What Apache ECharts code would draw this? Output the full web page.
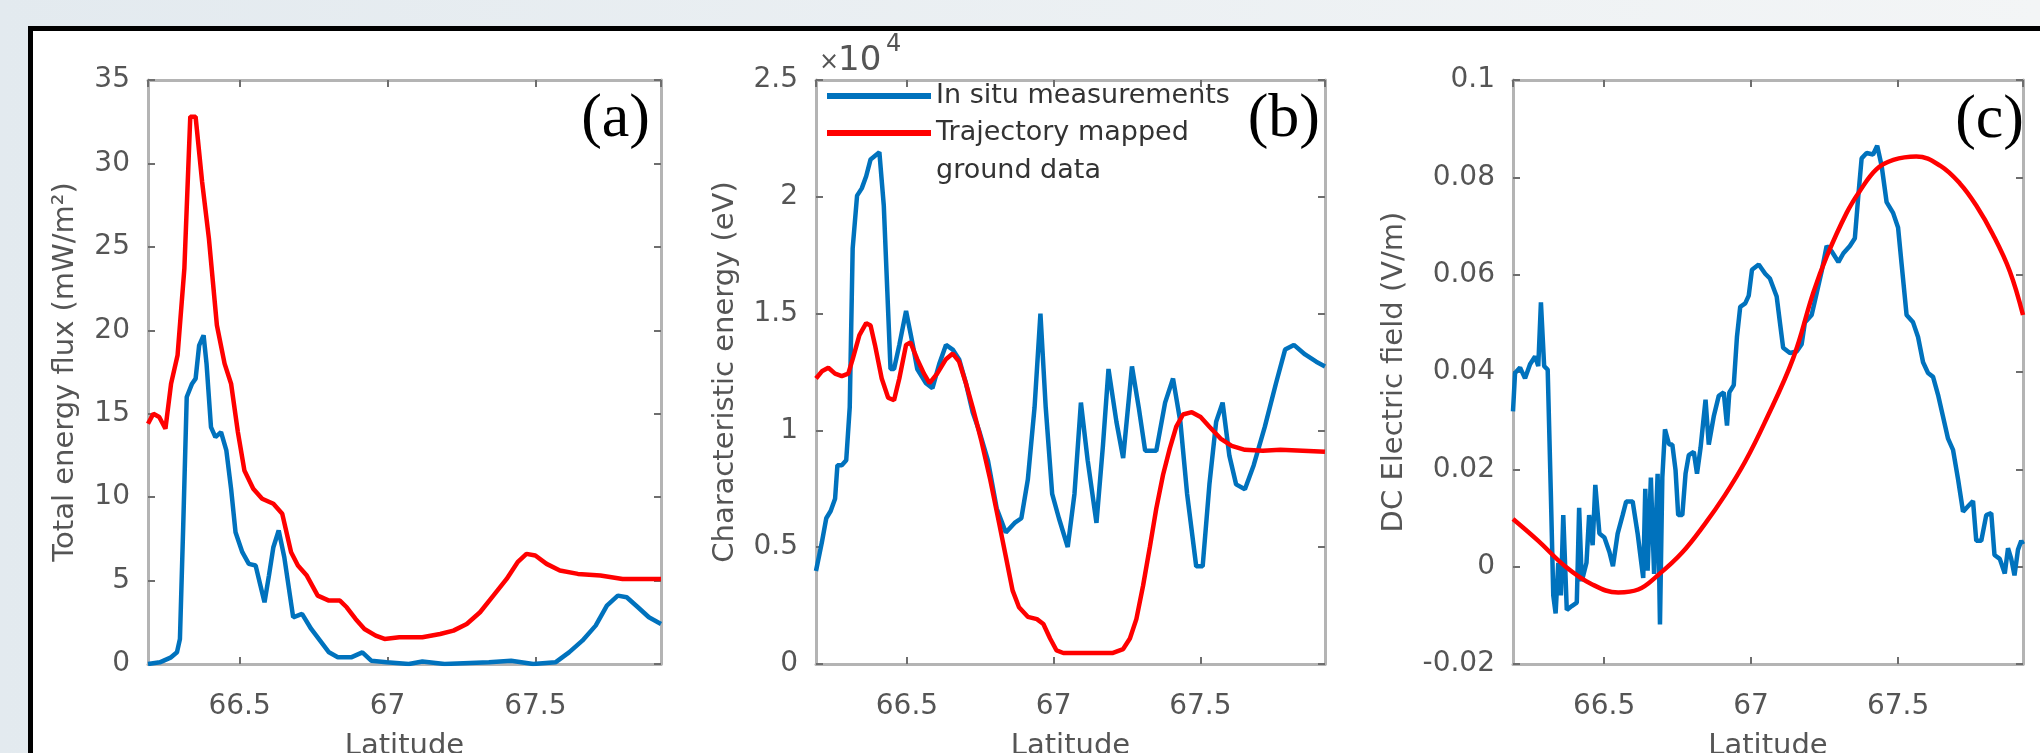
<!DOCTYPE html>
<html>
<head>
<meta charset="utf-8">
<script src="https://cdn.jsdelivr.net/npm/echarts@6/dist/echarts.min.js"></script>
<style>
  html, body { margin: 0; padding: 0; }
  body { background: linear-gradient(to right, #e3eaef, #f3f5f6); }
  #chart { width: 2040px; height: 753px; }
</style>
</head>
<body>
<div id="chart"></div>
<script>
// latitude range shared by the three panels
var LAT_MIN = 66.19, LAT_MAX = 67.925;

// (a) total energy flux, mW/m2
var fluxLatIn = [66.19, 66.23, 66.268, 66.288, 66.298, 66.309, 66.321, 66.339, 66.351, 66.363,
  66.378, 66.388, 66.403, 66.418, 66.437, 66.455, 66.471, 66.486, 66.509, 66.531,
  66.554, 66.569, 66.584, 66.599, 66.614, 66.632, 66.651, 66.681, 66.711, 66.742,
  66.772, 66.802, 66.832, 66.877, 66.915, 66.945, 66.997, 67.072, 67.118, 67.193,
  67.343, 67.418, 67.493, 67.568, 67.614, 67.659, 67.704, 67.742, 67.779, 67.809,
  67.847, 67.884, 67.925];
var fluxIn = [0, 0.1, 0.4, 0.7, 1.5, 8.2, 16.0, 16.8, 17.1, 19.1,
  19.7, 18.0, 14.2, 13.6, 13.9, 12.8, 10.5, 7.9, 6.7, 6.0,
  5.9, 4.8, 3.7, 5.3, 7.0, 8.0, 6.4, 2.8, 3.0, 2.1,
  1.4, 0.7, 0.4, 0.4, 0.7, 0.2, 0.1, 0, 0.15, 0,
  0.1, 0.2, 0, 0.1, 0.7, 1.4, 2.3, 3.5, 4.1, 4.0,
  3.4, 2.8, 2.4];
var fluxLatMap = [66.19, 66.208, 66.228, 66.249, 66.268, 66.29, 66.313, 66.333, 66.351, 66.373,
  66.396, 66.423, 66.449, 66.471, 66.494, 66.516, 66.546, 66.576, 66.614, 66.644,
  66.674, 66.697, 66.727, 66.764, 66.802, 66.839, 66.862, 66.892, 66.922, 66.96,
  66.99, 67.04, 67.118, 67.178, 67.223, 67.268, 67.313, 67.358, 67.403, 67.44,
  67.47, 67.5, 67.538, 67.583, 67.644, 67.72, 67.795, 67.87, 67.925];
var fluxMap = [14.4, 15.0, 14.8, 14.1, 16.8, 18.5, 23.7, 32.8, 32.8, 28.9,
  25.5, 20.3, 18.0, 16.8, 13.9, 11.6, 10.5, 9.9, 9.6, 9.0,
  6.7, 5.9, 5.3, 4.1, 3.8, 3.8, 3.4, 2.7, 2.1, 1.7,
  1.5, 1.6, 1.6, 1.8, 2.0, 2.4, 3.1, 4.1, 5.1, 6.1,
  6.6, 6.5, 6.0, 5.6, 5.4, 5.3, 5.1, 5.1, 5.1];

// (b) characteristic energy, eV
var energyLatIn = [66.19, 66.21, 66.225, 66.24, 66.255, 66.263, 66.278, 66.293, 66.305, 66.315,
  66.33, 66.346, 66.361, 66.376, 66.406, 66.421, 66.444, 66.456, 66.474, 66.497,
  66.52, 66.535, 66.565, 66.587, 66.61, 66.633, 66.656, 66.678, 66.701, 66.724,
  66.747, 66.776, 66.806, 66.837, 66.867, 66.89, 66.912, 66.935, 66.955, 66.973,
  66.995, 67.018, 67.048, 67.071, 67.093, 67.116, 67.146, 67.168, 67.187, 67.214,
  67.237, 67.267, 67.29, 67.312, 67.35, 67.38, 67.407, 67.432, 67.455, 67.486,
  67.508, 67.531, 67.554, 67.576, 67.599, 67.622, 67.652, 67.682, 67.72, 67.758,
  67.789, 67.819, 67.857, 67.895, 67.925];
var energyIn = [3980, 5210, 6240, 6550, 7070, 8510, 8510, 8720, 10990, 17790,
  20050, 20360, 20880, 21600, 21910, 19640, 12630, 12630, 13660, 15110,
  13660, 12630, 12020, 11810, 12840, 13660, 13460, 13040, 12020, 10780,
  9950, 8720, 6660, 5630, 6040, 6240, 7890, 10990, 15000, 10990,
  7280, 6240, 5010, 7280, 11190, 8720, 6040, 9340, 12630, 10370,
  8820, 12740, 10990, 9130, 9130, 11190, 12220, 10370, 7280, 4180,
  4180, 7690, 10370, 11190, 8920, 7690, 7480, 8510, 10160, 12020,
  13460, 13660, 13250, 12940, 12740];
var energyLatMap = [66.19, 66.21, 66.232, 66.255, 66.278, 66.3, 66.315, 66.338, 66.361, 66.376,
  66.391, 66.414, 66.436, 66.456, 66.474, 66.497, 66.512, 66.535, 66.558, 66.577,
  66.603, 66.633, 66.656, 66.678, 66.701, 66.724, 66.754, 66.784, 66.814, 66.837,
  66.86, 66.882, 66.912, 66.943, 66.965, 66.988, 67.01, 67.033, 67.079, 67.139,
  67.2, 67.237, 67.26, 67.282, 67.305, 67.328, 67.35, 67.373, 67.396, 67.418,
  67.441, 67.471, 67.501, 67.531, 67.569, 67.607, 67.652, 67.713, 67.773, 67.849, 67.925];
var energyMap = [12220, 12530, 12680, 12430, 12320, 12430, 13050, 14080, 14590, 14490,
  13660, 12220, 11400, 11290, 12220, 13660, 13770, 13050, 12430, 12020,
  12430, 13050, 13290, 12940, 12020, 10990, 9540, 7890, 6040, 4600,
  3150, 2430, 2020, 1920, 1710, 1090, 580, 470, 470, 470,
  470, 640, 1090, 1920, 3360, 5010, 6660, 8100, 9230, 10160,
  10680, 10780, 10570, 10160, 9650, 9340, 9170, 9130, 9170, 9130, 9090];

// (c) DC electric field, V/m
var efieldLatIn = [66.19, 66.197, 66.214, 66.231, 66.248, 66.265, 66.276, 66.285, 66.296, 66.308,
  66.319, 66.327, 66.335, 66.344, 66.353, 66.361, 66.373, 66.39, 66.407, 66.415,
  66.424, 66.44, 66.449, 66.461, 66.47, 66.484, 66.501, 66.518, 66.53, 66.546,
  66.563, 66.575, 66.597, 66.614, 66.625, 66.633, 66.64, 66.648, 66.659, 66.67,
  66.682, 66.69, 66.698, 66.707, 66.721, 66.732, 66.743, 66.752, 66.766, 66.777,
  66.788, 66.805, 66.816, 66.828, 66.845, 66.856, 66.873, 66.89, 66.907, 66.918,
  66.926, 66.941, 66.952, 66.963, 66.98, 66.992, 67.003, 67.026, 67.048, 67.064,
  67.087, 67.098, 67.109, 67.132, 67.155, 67.172, 67.183, 67.206, 67.223, 67.24,
  67.257, 67.274, 67.297, 67.314, 67.336, 67.353, 67.365, 67.376, 67.393, 67.415,
  67.429, 67.444, 67.461, 67.483, 67.5, 67.512, 67.529, 67.551, 67.568, 67.585,
  67.602, 67.619, 67.636, 67.653, 67.67, 67.687, 67.704, 67.721, 67.738, 67.755,
  67.766, 67.783, 67.8, 67.817, 67.828, 67.846, 67.863, 67.874, 67.885, 67.896,
  67.908, 67.919, 67.925];
var efieldIn = [0.0319, 0.0398, 0.0409, 0.0387, 0.0416, 0.0432, 0.0412, 0.0543, 0.0412, 0.0405,
  0.0144, -0.0059, -0.0096, 0.0008, -0.0059, 0.0106, -0.0089, -0.0081, -0.0074, 0.0121,
  -0.003, 0.0008, 0.0106, 0.0044, 0.0168, 0.0068, 0.006, 0.003, 0.0001, 0.0068,
  0.0106, 0.0134, 0.0134, 0.0068, 0.0015, -0.0023, 0.016, -0.0008, 0.0183, -0.0015,
  0.0191, -0.0119, 0.0183, 0.0282, 0.0251, 0.0251, 0.0198, 0.0106, 0.0106, 0.0191,
  0.0229, 0.0236, 0.0191, 0.0244, 0.0343, 0.0251, 0.0309, 0.0351, 0.0358, 0.029,
  0.0358, 0.0373, 0.0473, 0.0534, 0.0541, 0.0557, 0.061, 0.0621, 0.0602, 0.0592,
  0.0555, 0.0502, 0.045, 0.0439, 0.0442, 0.0457, 0.0502, 0.0517, 0.0562, 0.0607,
  0.0659, 0.0648, 0.0626, 0.0644, 0.0659, 0.0675, 0.0764, 0.0839, 0.085, 0.0847,
  0.0865, 0.0824, 0.0749, 0.0727, 0.0697, 0.0622, 0.0517, 0.0502, 0.0472, 0.042,
  0.0398, 0.039, 0.0353, 0.0308, 0.0263, 0.024, 0.018, 0.0113, 0.0124, 0.0135,
  0.0053, 0.0053, 0.0106, 0.011, 0.0024, 0.0016, -0.0014, 0.0038, 0.0016, -0.0018,
  0.0035, 0.0053, 0.0046];
var efieldLatMap = [66.19, 66.276, 66.367, 66.458, 66.548, 66.616, 66.684, 66.764, 66.843, 66.911,
  66.979, 67.047, 67.143, 67.211, 67.257, 67.325, 67.37, 67.427, 67.484, 67.562,
  67.643, 67.711, 67.766, 67.823, 67.88, 67.925];
var efieldMap = [0.0098, 0.0053, 0.0001, -0.0036, -0.0053, -0.0047, -0.0017, 0.0028, 0.0088, 0.0147,
  0.0215, 0.0297, 0.0428, 0.0562, 0.0637, 0.0727, 0.0772, 0.0817, 0.0836, 0.0843,
  0.0824, 0.0787, 0.0742, 0.0682, 0.0607, 0.0517];

var NAME_IN = 'In situ measurements';
var NAME_MAP = 'Trajectory mapped ground data';
var BLUE = '#0072BD', RED = '#FF0000';
var FONT = 'DejaVu Sans';

var myChart = echarts.init(document.getElementById('chart'));

function pairs(xs, ys) {
  var n = Math.min(xs.length, ys.length), out = [];
  for (var i = 0; i < n; i++) out.push([xs[i], ys[i]]);
  return out;
}

var axisLine = { show: true, onZero: false, lineStyle: { color: '#b4b4b4', width: 3 } };
var axisTick = { show: true, inside: true, length: 7, lineStyle: { color: '#6e6e6e', width: 2 } };
var labelStyle = { fontFamily: FONT, fontSize: 28, color: '#555' };
var nameStyle = { fontFamily: FONT, fontSize: 29, color: '#555' };

function latLabel(v) {
  return Math.abs(v * 2 - Math.round(v * 2)) < 1e-6 ? String(v) : '';
}

function makeX(g) {
  var base = { gridIndex: g, type: 'value', min: LAT_MIN, max: LAT_MAX, splitNumber: 4,
    splitLine: { show: false }, axisLine: axisLine, axisTick: axisTick };
  return [
    Object.assign({}, base, { position: 'bottom', name: 'Latitude', nameLocation: 'middle',
      nameGap: 68, nameTextStyle: nameStyle,
      axisLabel: Object.assign({ margin: 29, showMinLabel: false, showMaxLabel: false, formatter: latLabel }, labelStyle) }),
    Object.assign({}, base, { position: 'top', axisLabel: { show: false } })
  ];
}

function makeY(g, min, max, step, name, gap, fmt) {
  var base = { gridIndex: g, type: 'value', min: min, max: max, interval: step,
    splitLine: { show: false }, axisLine: axisLine, axisTick: axisTick };
  return [
    Object.assign({}, base, { position: 'left', name: name, nameLocation: 'middle', nameGap: gap,
      nameTextStyle: nameStyle, axisLabel: Object.assign({ margin: 18, formatter: fmt }, labelStyle) }),
    Object.assign({}, base, { position: 'right', axisLabel: { show: false } })
  ];
}

function line(name, color, g, xs, ys, smooth) {
  return { name: name, type: 'line', xAxisIndex: 2 * g, yAxisIndex: 2 * g,
    data: pairs(xs, ys), symbol: 'none', showSymbol: false, smooth: smooth || false,
    lineStyle: { color: color, width: 4.5 }, itemStyle: { color: color }, z: 3 };
}

var legendText = { fontFamily: FONT, fontSize: 27, color: '#333' };

var option = {
  backgroundColor: 'transparent',
  animation: false,
  grid: [
    { left: 148, top: 80, width: 513, height: 584, outerBoundsMode: 'none' },
    { left: 816, top: 80, width: 509, height: 584, outerBoundsMode: 'none' },
    { left: 1513, top: 80, width: 510, height: 584, outerBoundsMode: 'none' }
  ],
  xAxis: [].concat(makeX(0), makeX(1), makeX(2)),
  yAxis: [].concat(
    makeY(0, 0, 35, 5, 'Total energy flux (mW/m\u00B2)', 68, function (v) { return String(v); }),
    makeY(1, 0, 25000, 5000, 'Characteristic energy (eV)', 76, function (v) { return String(+(v / 10000).toFixed(1)); }),
    makeY(2, -0.02, 0.1, 0.02, 'DC Electric field (V/m)', 104, function (v) { return String(+v.toFixed(2)); })
  ),
  legend: [
    { data: [NAME_IN], left: 827, top: 81, orient: 'vertical', padding: 0, icon: 'rect',
      itemWidth: 104, itemHeight: 6, selectedMode: false,
      textStyle: Object.assign({ lineHeight: 30 }, legendText) },
    { data: [NAME_MAP], left: 827, top: 76, orient: 'vertical', padding: 0, icon: 'rect',
      itemWidth: 104, itemHeight: 6, selectedMode: false,
      formatter: function (n) { return ' \n' + n.replace(' ground', '\nground'); },
      textStyle: Object.assign({ lineHeight: 38 }, legendText) }
  ],
  graphic: [
    { type: 'rect', z: -10, silent: true, shape: { x: 30.5, y: 28.5, width: 2100, height: 800 },
      style: { fill: '#fff', stroke: '#000', lineWidth: 5 } },
    { type: 'text', z: 10, x: 650, y: 120, style: { text: '(a)', font: '62px "Liberation Serif"', fill: '#000', align: 'right', verticalAlign: 'middle' } },
    { type: 'text', z: 10, x: 1320, y: 120, style: { text: '(b)', font: '62px "Liberation Serif"', fill: '#000', align: 'right', verticalAlign: 'middle' } },
    { type: 'text', z: 10, x: 2024, y: 121, style: { text: '(c)', font: '62px "Liberation Serif"', fill: '#000', align: 'right', verticalAlign: 'middle' } },
    { type: 'text', z: 10, x: 819, y: 63, style: { text: '\u00D7', font: '24px "DejaVu Sans"', fill: '#555', verticalAlign: 'middle' } },
    { type: 'text', z: 10, x: 838, y: 61, style: { text: '10', font: '34px "DejaVu Sans"', fill: '#555', verticalAlign: 'middle' } },
    { type: 'text', z: 10, x: 886, y: 45, style: { text: '4', font: '24px "DejaVu Sans"', fill: '#555', verticalAlign: 'middle' } }
  ],
  series: [
    line(NAME_IN, BLUE, 0, fluxLatIn, fluxIn),
    line(NAME_MAP, RED, 0, fluxLatMap, fluxMap),
    line(NAME_IN, BLUE, 1, energyLatIn, energyIn),
    line(NAME_MAP, RED, 1, energyLatMap, energyMap),
    line(NAME_IN, BLUE, 2, efieldLatIn, efieldIn),
    line(NAME_MAP, RED, 2, efieldLatMap, efieldMap, 0.4)
  ]
};

myChart.setOption(option);
</script>
</body>
</html>
